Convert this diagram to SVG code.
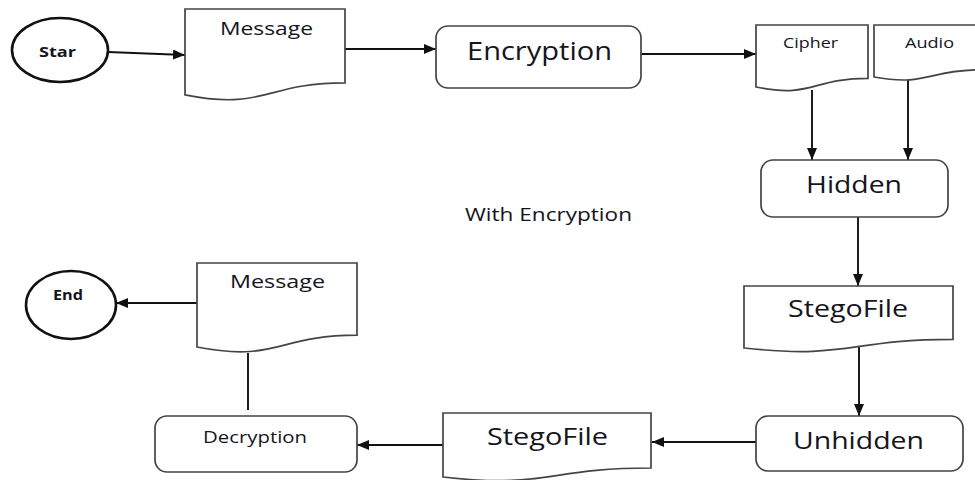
<svg xmlns="http://www.w3.org/2000/svg" width="975" height="480" viewBox="0 0 975 480">
  <defs>
    <style>
      .term { fill: #fff; stroke: #111; stroke-width: 2.6; }
      .box { fill: #fff; stroke: #444; stroke-width: 1.7; }
      .doc { fill: #fff; stroke: #444; stroke-width: 1.7; }
      .lbl { font-family: "Open Sans", "Liberation Sans", sans-serif; fill: #15151c; text-anchor: middle; }
      .bold { font-weight: bold; }
      .conn { fill: none; stroke: #111; stroke-width: 1.9; }
    </style>
    <marker id="arrow" markerUnits="userSpaceOnUse" markerWidth="13" markerHeight="10" refX="12" refY="5" orient="auto">
      <path d="M0,0 L12,5 L0,10 Z" fill="#111"/>
    </marker>
  </defs>
  <rect width="975" height="480" fill="#fff"/>

  <!-- connectors -->
  <g id="connectors">
    <path class="conn" d="M108,52 L185,55" marker-end="url(#arrow)"/>
    <path class="conn" d="M345,49 L436,49" marker-end="url(#arrow)"/>
    <path class="conn" d="M641,54 L756,54" marker-end="url(#arrow)"/>
    <path class="conn" d="M812,90 L812,160" marker-end="url(#arrow)"/>
    <path class="conn" d="M908,79 L908,160" marker-end="url(#arrow)"/>
    <path class="conn" d="M858,217 L858,286" marker-end="url(#arrow)"/>
    <path class="conn" d="M859,345 L859,416" marker-end="url(#arrow)"/>
    <path class="conn" d="M756,442 L652,442" marker-end="url(#arrow)"/>
    <path class="conn" d="M443,445 L357,445" marker-end="url(#arrow)"/>
    <path class="conn" d="M248,410 L248,353"/>
    <path class="conn" d="M197,303 L116,303" marker-end="url(#arrow)"/>
  </g>

  <!-- start terminal -->
  <g id="start">
    <ellipse class="term" cx="60" cy="50" rx="48" ry="32"/>
    <text class="lbl bold" x="57.5" y="57" font-size="15" textLength="37" lengthAdjust="spacingAndGlyphs">Star</text>
  </g>

  <!-- document: M x,y H x+w V y+.802h C x+.5w,y+.802h x+.5w,y+1.107h x,y+.934h Z -->
  <g id="message-in">
    <path class="doc" d="M185,9 H345 V82.8 C265,82.8 265,110.8 185,94.9 Z"/>
    <text class="lbl" x="266.5" y="35" font-size="18" textLength="93" lengthAdjust="spacingAndGlyphs">Message</text>
  </g>

  <g id="encryption">
    <rect class="box" x="436" y="26" width="205" height="62" rx="12"/>
    <text class="lbl" x="539.5" y="60" font-size="25" textLength="145" lengthAdjust="spacingAndGlyphs">Encryption</text>
  </g>

  <g id="cipher">
    <path class="doc" d="M756,25 H868 V78.3 C812,78.3 812,98.5 756,87 Z"/>
    <text class="lbl" x="810.5" y="48" font-size="15" textLength="55" lengthAdjust="spacingAndGlyphs">Cipher</text>
  </g>

  <g id="audio">
    <path class="doc" d="M874,25 H982 V69.7 C928,69.7 928,86.7 874,77 Z"/>
    <text class="lbl" x="929.5" y="48" font-size="15" textLength="49" lengthAdjust="spacingAndGlyphs">Audio</text>
  </g>

  <g id="hidden">
    <rect class="box" x="761" y="160" width="187" height="57" rx="12"/>
    <text class="lbl" x="854" y="193" font-size="23" textLength="96" lengthAdjust="spacingAndGlyphs">Hidden</text>
  </g>

  <g id="caption">
    <text class="lbl" x="548.5" y="221" font-size="19" textLength="167" lengthAdjust="spacingAndGlyphs">With Encryption</text>
  </g>

  <g id="stegofile-out">
    <path class="doc" d="M744,286 H953 V339.3 C848.5,339.3 848.5,359.5 744,348 Z"/>
    <text class="lbl" x="848" y="317" font-size="24" textLength="120" lengthAdjust="spacingAndGlyphs">StegoFile</text>
  </g>

  <g id="unhidden">
    <rect class="box" x="756" y="416" width="207" height="55" rx="12"/>
    <text class="lbl" x="858.5" y="449" font-size="23" textLength="131" lengthAdjust="spacingAndGlyphs">Unhidden</text>
  </g>

  <g id="stegofile-in">
    <path class="doc" d="M443,413 H651 V468 C547,468 547,488.8 443,477 Z"/>
    <text class="lbl" x="547.5" y="445" font-size="23" textLength="121" lengthAdjust="spacingAndGlyphs">StegoFile</text>
  </g>

  <g id="decryption">
    <rect class="box" x="155" y="416" width="202" height="56" rx="12"/>
    <text class="lbl" x="255" y="443" font-size="16" textLength="104" lengthAdjust="spacingAndGlyphs">Decryption</text>
  </g>

  <g id="message-out">
    <path class="doc" d="M197,263 H357 V335.2 C277,335.2 277,362.6 197,347 Z"/>
    <text class="lbl" x="277.5" y="288" font-size="18" textLength="95" lengthAdjust="spacingAndGlyphs">Message</text>
  </g>

  <!-- end terminal -->
  <g id="end">
    <ellipse class="term" cx="71" cy="305" rx="45" ry="34"/>
    <text class="lbl bold" x="68" y="300" font-size="15" textLength="30" lengthAdjust="spacingAndGlyphs">End</text>
  </g>
</svg>
